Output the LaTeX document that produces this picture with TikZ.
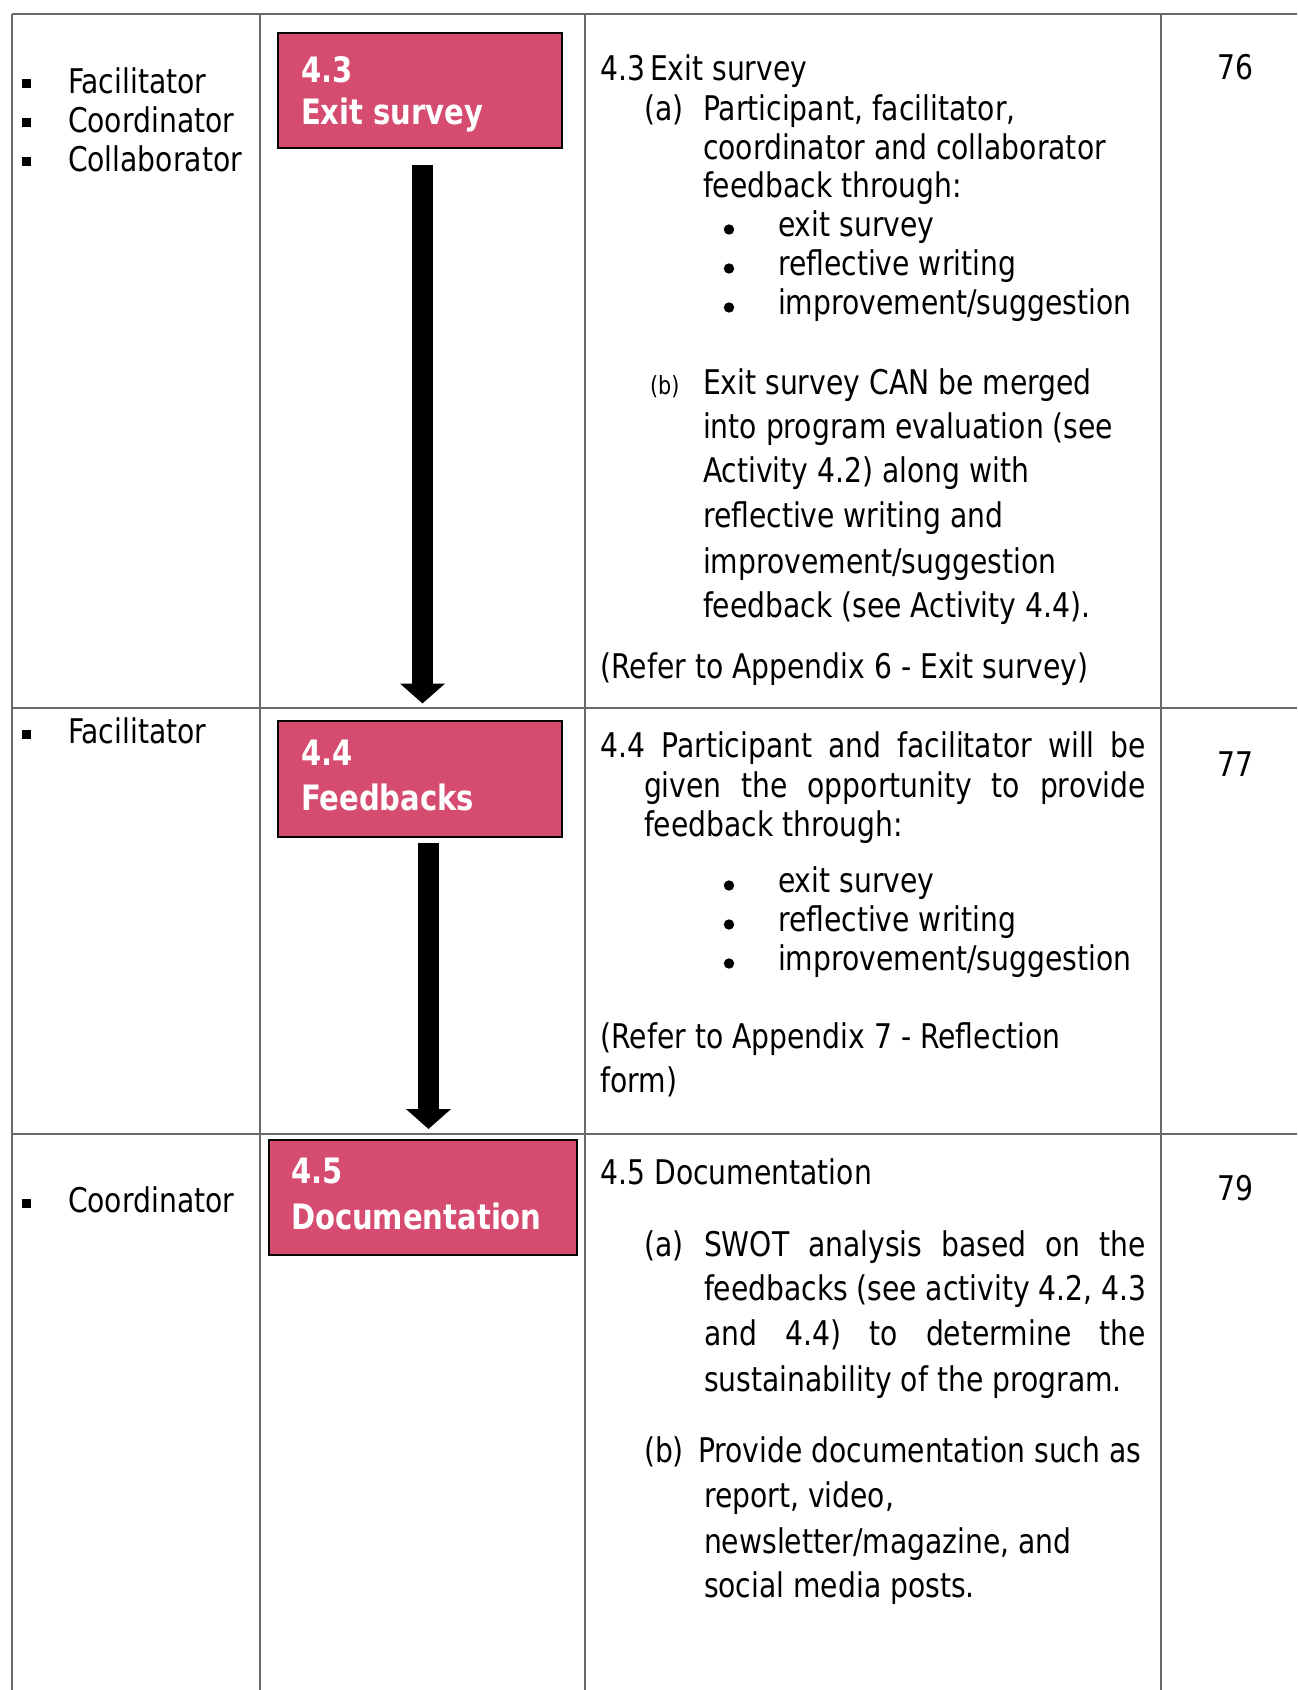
\documentclass[tikz,border=0pt]{standalone}
\usepackage{fontspec}
\setmainfont{DejaVu Sans}[FakeStretch=0.83]
\usetikzlibrary{arrows.meta}
\definecolor{stepfill}{RGB}{214,75,112}
\definecolor{rulegray}{RGB}{105,105,105}

\begin{document}
\begin{tikzpicture}[x=0.5pt,y=-0.5pt,
  every node/.style={inner sep=0pt, outer sep=0pt},
  txt/.style={anchor=base west, yshift=-1.25pt, font=\fontsize{17pt}{20pt}\selectfont},
  smalltxt/.style={anchor=base west, yshift=-1.25pt, font=\fontsize{12.5pt}{15pt}\selectfont},
  num/.style={anchor=base, yshift=-1pt, font=\fontsize{17pt}{20pt}\selectfont},
  bul/.style={circle, fill=black, minimum size=5.2pt},
  sq/.style={fill=black, minimum size=4.5pt},
  stepbox/.style={draw=black, line width=1pt, fill=stepfill},
  steptxt/.style={anchor=base west, yshift=-0.75pt, text=white, font=\fontsize{17.5pt}{20pt}\selectfont\bfseries},
  tablerule/.style={draw=rulegray, line width=1pt},
  flow/.style={line width=10.5pt, -{Triangle[width=22pt,length=10pt]}}
]
\useasboundingbox (0,0) rectangle (1297,1690);

% table grid
\draw[tablerule] (12,14) -- (1297,14);
\draw[tablerule] (12,708) -- (1297,708);
\draw[tablerule] (12,1134) -- (1297,1134);
\draw[tablerule] (12,14) -- (12,1690);
\draw[tablerule] (260,14) -- (260,1690);
\draw[tablerule] (585,14) -- (585,1690);
\draw[tablerule] (1161,14) -- (1161,1690);

% column 1: responsible persons
\node[sq] (s1) at (26,84) {};
\node[txt] (p1) at (68,90.7) {Facilitator};
\node[sq] (s2) at (26,123) {};
\node[txt] (p2) at (68,129.7) {Coordinator};
\node[sq] (s3) at (26,162) {};
\node[txt] (p3) at (68,168.8) {Collaborator};
\node[sq] (s4) at (26,734) {};
\node[txt] (p4) at (68,741) {Facilitator};
\node[sq] (s5) at (26,1203) {};
\node[txt] (p5) at (68,1210) {Coordinator};

% column 2: process steps
\node[stepbox, minimum width=142pt, minimum height=57.5pt] (b43) at (420,90.5) {};
\node[steptxt] (b43n) at (301,81) {4.3};
\node[steptxt] (b43t) at (301,123) {Exit survey};

\node[stepbox, minimum width=142pt, minimum height=58pt] (b44) at (420,778.5) {};
\node[steptxt] (b44n) at (301,764) {4.4};
\node[steptxt] (b44t) at (301,809) {Feedbacks};

\node[stepbox, minimum width=154pt, minimum height=57.5pt] (b45) at (422.5,1197.5) {};
\node[steptxt] (b45n) at (291,1182) {4.5};
\node[steptxt] (b45t) at (291,1228) {Documentation};

\draw[flow, shorten <=8.5pt, shorten >=8.5pt] ([xshift=1.25pt]b43.south) -- ([xshift=1.25pt]b44.north);
\draw[flow, shorten <=3.3pt, shorten >=5.5pt] ([xshift=4.25pt]b44.south) -- ([xshift=3pt]b45.north);

% column 3: activity 4.3
\node[txt] (a1) at (600.5,78) {4.3};
\node[txt] (a2) at (650,78) {Exit survey};
\node[txt] (a3) at (644,118) {(a)};
\node[txt] (a4) at (703,118) {Participant, facilitator,};
\node[txt] (a5) at (703,157) {coordinator and collaborator};
\node[txt] (a6) at (703,195) {feedback through:};
\node[bul] (a7d) at (729,229.5) {};
\node[txt] (a7) at (778,234) {exit survey};
\node[bul] (a8d) at (729,268.5) {};
\node[txt] (a8) at (778,273) {reflective writing};
\node[bul] (a9d) at (729,307.5) {};
\node[txt] (a9) at (778,312) {improvement/suggestion};
\node[smalltxt] (a10) at (650,392) {(b)};
\node[txt] (a11) at (703,392) {Exit survey CAN be merged};
\node[txt] (a12) at (703,436) {into program evaluation (see};
\node[txt] (a13) at (703,480) {Activity 4.2) along with};
\node[txt] (a14) at (703,525) {reflective writing and};
\node[txt] (a15) at (703,571) {improvement/suggestion};
\node[txt] (a16) at (703,615) {feedback (see Activity 4.4).};
\node[txt] (a17) at (600.5,676) {(Refer to Appendix 6 - Exit survey)};

% column 3: activity 4.4
\node[txt] (c1) at (600.5,755) {\makebox[272.75pt][s]{4.4 Participant and facilitator will be}};
\node[txt] (c2) at (644,795) {\makebox[251pt][s]{given the opportunity to provide}};
\node[txt] (c3) at (644,834) {feedback through:};
\node[bul] (c4d) at (729,885.5) {};
\node[txt] (c4) at (778,890) {exit survey};
\node[bul] (c5d) at (729,924.5) {};
\node[txt] (c5) at (778,929) {reflective writing};
\node[bul] (c6d) at (729,963.5) {};
\node[txt] (c6) at (778,968) {improvement/suggestion};
\node[txt] (c7) at (600.5,1046) {(Refer to Appendix 7 - Reflection};
\node[txt] (c8) at (600.5,1090) {form)};

% column 3: activity 4.5
\node[txt] (d1) at (600.5,1182) {4.5 Documentation};
\node[txt] (d2) at (644,1254) {(a)};
\node[txt] (d3) at (704,1254) {\makebox[221pt][s]{SWOT analysis based on the}};
\node[txt] (d4) at (704,1298) {\makebox[221pt][s]{feedbacks (see activity 4.2, 4.3}};
\node[txt] (d5) at (704,1343) {\makebox[221pt][s]{and 4.4) to determine the}};
\node[txt] (d6) at (704,1389) {sustainability of the program.};
\node[txt] (d7) at (644,1460) {(b)};
\node[txt] (d8) at (698,1460) {Provide documentation such as};
\node[txt] (d9) at (704,1505) {report, video,};
\node[txt] (d10) at (704,1551) {newsletter/magazine, and};
\node[txt] (d11) at (704,1595) {social media posts.};

% column 4: page numbers
\node[num] (n1) at (1235,78) {76};
\node[num] (n2) at (1235,774) {77};
\node[num] (n3) at (1235,1198) {79};
\end{tikzpicture}
\end{document}
